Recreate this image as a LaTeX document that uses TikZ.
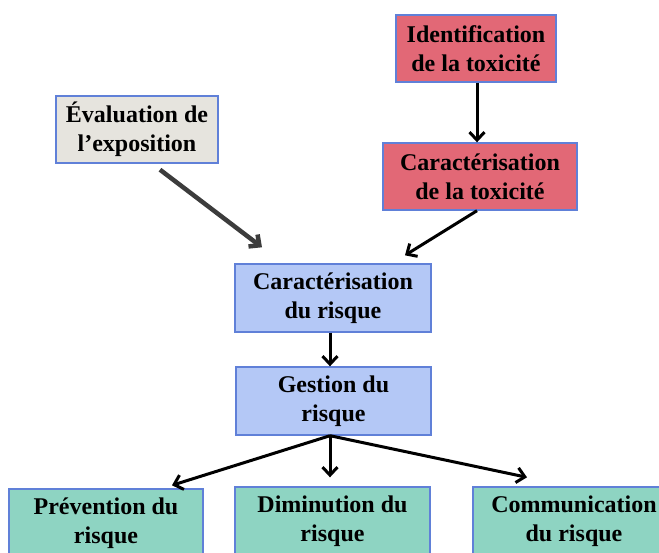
\documentclass[tikz,border=0pt]{standalone}
\usepackage{fontspec}
\setmainfont{Liberation Serif}
\usetikzlibrary{arrows.meta}
\definecolor{boxred}{RGB}{226,104,118}
\definecolor{boxgray}{RGB}{230,228,222}
\definecolor{boxblue}{RGB}{180,200,246}
\definecolor{boxgreen}{RGB}{142,212,194}
\definecolor{edgeblue}{RGB}{96,128,216}
\definecolor{arrgray}{RGB}{60,60,60}
\begin{document}
\begin{tikzpicture}[x=1pt,y=-1pt,
  box/.style={draw=edgeblue,line width=1.4pt,inner sep=0pt,align=center,
    font=\fontsize{24}{29}\selectfont\bfseries,text=black},
  arr/.style={line width=3pt,black,-{Straight Barb[length=8pt,width=15pt]}},
  garr/.style={line width=4.5pt,arrgray,-{Straight Barb[length=8pt,width=15pt]}}]
\clip (0,0) rectangle (659,552);
\fill[white] (0,0) rectangle (659,552);
\node[box,fill=boxred,minimum width=160pt,minimum height=67pt] (ident) at (476,48.5) {Identification\\de la toxicité};
\node[box,fill=boxred,minimum width=194pt,minimum height=67pt] (ctox) at (480,176.5) {Caractérisation\\de la toxicité};
\node[box,fill=boxgray,minimum width=162pt,minimum height=67pt] (eval) at (137,129.5) {Évaluation de\\l’exposition};
\node[box,fill=boxblue,minimum width=196pt,minimum height=68pt] (crisk) at (333,298) {Caractérisation\\du risque};
\node[box,fill=boxblue,minimum width=195pt,minimum height=68pt] (gest) at (333.5,401) {Gestion du\\risque};
\node[box,fill=boxgreen,minimum width=194pt,minimum height=68pt] (prev) at (106,523) {Prévention du\\risque};
\node[box,fill=boxgreen,minimum width=195pt,minimum height=68pt] (dimi) at (332.5,521) {Diminution du\\risque};
\node[box,fill=boxgreen,minimum width=202pt,minimum height=68pt] (comm) at (574,521) {Communication\\du risque};
\draw[arr] ([xshift=1pt]ident.south) -- ([xshift=-3pt]ctox.north);
\draw[arr] ([xshift=-3pt]ctox.south) -- ([shift={(72,-8)}]crisk.north);
\draw[garr] ([shift={(23,6)}]eval.south) -- ([shift={(-71,-16)}]crisk.north);
\draw[arr] ([xshift=-3pt]crisk.south) -- ([xshift=-3.5pt]gest.north);
\draw[arr] ([xshift=-3.5pt]gest.south) -- ([shift={(66,-3)}]prev.north);
\draw[arr] ([xshift=-3.5pt]gest.south) -- ([shift={(-2.5,-9)}]dimi.north);
\draw[arr] ([xshift=-3.5pt]gest.south) -- ([shift={(-47,-9)}]comm.north);
\end{tikzpicture}
\end{document}
